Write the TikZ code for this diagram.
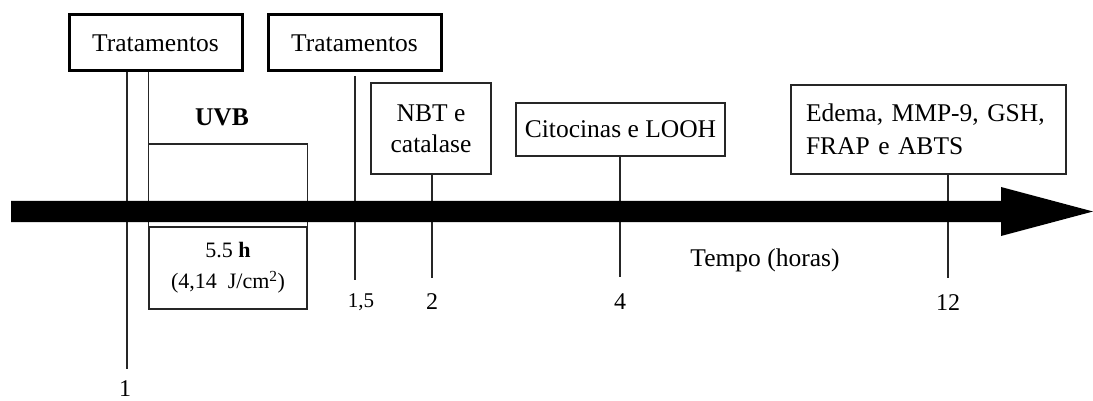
\documentclass[tikz,border=0pt]{standalone}
\usepackage{fontspec}
\setmainfont{Liberation Serif}
\begin{document}
\begin{tikzpicture}[x=1pt,y=-1pt,
  thin line/.style={line width=1.3pt,draw=black!85},
  box/.style={draw=black!85,line width=1.3pt,inner sep=0pt,font=\fontsize{25.5}{31}\selectfont,align=center},
  tbox/.style={box,line width=3pt,draw=black},
  num/.style={font=\fontsize{24}{28}\selectfont,inner sep=0pt},
  bigtxt/.style={font=\fontsize{25.5}{31}\selectfont,inner sep=0pt}]
\useasboundingbox (0,0) rectangle (1093,401);
% boxes
\node[tbox,minimum width=173,minimum height=56] (t1) at (155.5,43) {Tratamentos};
\node[tbox,minimum width=173,minimum height=56] (t2) at (354.5,43) {Tratamentos};
\node[box,minimum width=120,minimum height=91] (nbt) at (431,128.5) {NBT e\\catalase};
\node[box,minimum width=209,minimum height=53] (cit) at (620.5,129.5) {Citocinas e LOOH};
\node[box,text width=245,inner xsep=15,minimum height=89,align=left,font=\fontsize{25.5}{33}\selectfont] (ede) at (928.5,129.5) {Edema, MMP-9, GSH,\\FRAP e ABTS};
\node[box,minimum width=158,minimum height=82,font=\fontsize{22}{31}\selectfont] (uvb) at (228,268) {5.5 \textbf{h}\\(4,14~~J/cm\textsuperscript{2})};
% labels
\node[bigtxt,font=\bfseries\fontsize{25.5}{31}\selectfont] (uvbl) at (222,117) {UVB};
\node[bigtxt] (tempo) at (765,260) {Tempo (horas)};
\node[num] (l1) at (125,389) {1};
\node[num,font=\fontsize{21}{25}\selectfont] (l15) at (361,302) {1,5};
\node[num] (l2) at (432,302) {2};
\node[num] (l4) at (620,302) {4};
\node[num] (l12) at (948,303) {12};
% tick ends
\coordinate (e1) at (127,369);
\coordinate (s15) at (355,76);
\coordinate (e15) at (355,280);
\coordinate (e2) at (432,278);
\coordinate (e4) at (620,277);
\coordinate (e12) at (948,278);
\coordinate (bu) at (0,144);
% connectors
\draw[thin line] (t1.south -| e1) -- (e1);
\draw[thin line] (t1.south -| uvb.north west) -- (uvb.north west);
\draw[thin line] (uvb.north west |- bu) -- (uvb.north east |- bu) -- ([yshift=-67]uvb.north east);
\draw[thin line] (s15) -- (e15);
\draw[thin line] (nbt.south -| e2) -- (e2);
\draw[thin line] (cit.south -| e4) -- (e4);
\draw[thin line] (ede.south -| e12) -- (e12);
% time arrow
\fill[black] (11,201) -- (1001,201) -- (1001,187) -- (1093,211.5) -- (1001,236) -- (1001,222) -- (11,222) -- cycle;
\end{tikzpicture}
\end{document}
